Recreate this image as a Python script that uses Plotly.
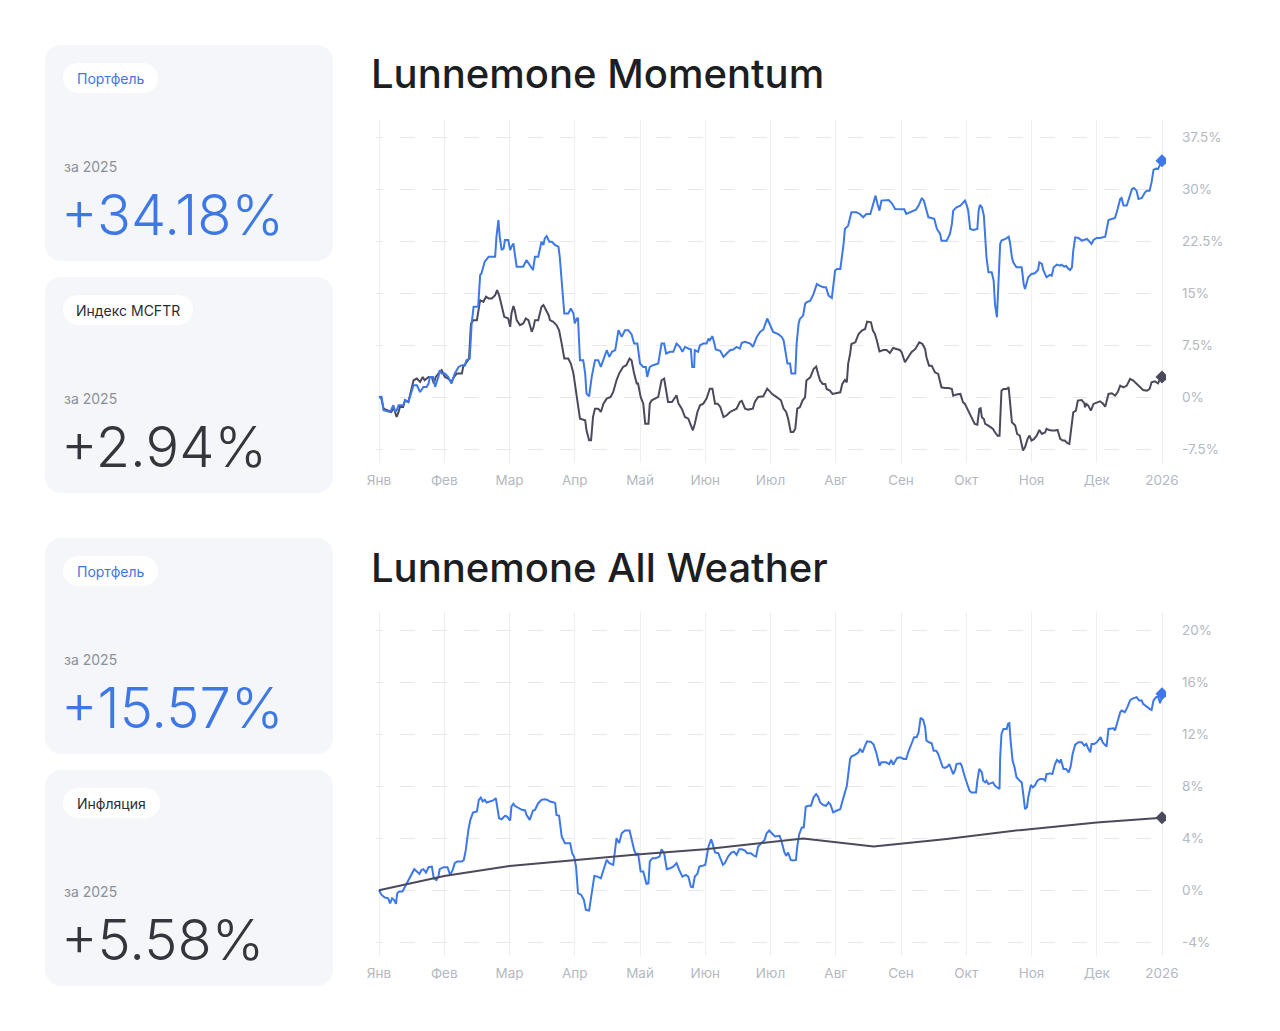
import plotly.graph_objects as go

W, H = 1280, 1031

# ---------------- DATA ----------------
MONTH_POS = list(range(13))
MONTH_LABELS = ["Янв", "Фев", "Мар", "Апр", "Май", "Июн", "Июл", "Авг", "Сен", "Окт", "Ноя", "Дек", "2026"]

TOP_TICKS = [-7.5, 0, 7.5, 15, 22.5, 30, 37.5]
TOP_TICK_TEXT = ["-7.5%", "0%", "7.5%", "15%", "22.5%", "30%", "37.5%"]
BOT_TICKS = [-4, 0, 4, 8, 12, 16, 20]
BOT_TICK_TEXT = ["-4%", "0%", "4%", "8%", "12%", "16%", "20%"]

TITLE_TOP = "Lunnemone Momentum"
TITLE_BOT = "Lunnemone All Weather"

CARDS = [
    ("Портфель", True, "за 2025", "+34.18%", True),
    ("Индекс MCFTR", False, "за 2025", "+2.94%", False),
    ("Портфель", True, "за 2025", "+15.57%", True),
    ("Инфляция", False, "за 2025", "+5.58%", False),
]

MOMENTUM = [
    (0.00, 0.00), (0.04, 0.05), (0.07, -1.88), (0.12, -2.03), (0.17, -2.12), (0.22, -1.16), (0.25, -2.12),
    (0.27, -1.88), (0.30, -1.16), (0.37, -1.16), (0.40, -0.43), (0.45, -0.68), (0.50, 1.01), (0.53, 1.74),
    (0.58, 1.74), (0.63, 0.77), (0.68, 1.50), (0.73, 1.50), (0.76, 1.98), (0.78, 2.94), (0.83, 2.94),
    (0.86, 1.50), (0.91, 2.94), (0.93, 3.91), (0.96, 3.42), (1.01, 3.42), (1.06, 2.94), (1.11, 1.98),
    (1.16, 3.42), (1.22, 4.39), (1.27, 4.63), (1.32, 4.63), (1.34, 5.35), (1.39, 5.59), (1.42, 10.66),
    (1.45, 13.07), (1.52, 13.07), (1.55, 17.65), (1.57, 17.89), (1.62, 19.58), (1.68, 20.30), (1.78, 20.30),
    (1.80, 23.20), (1.83, 25.61), (1.85, 23.20), (1.88, 21.27), (1.91, 21.51), (1.93, 22.72), (1.98, 22.72),
    (2.01, 21.27), (2.03, 21.75), (2.06, 22.23), (2.08, 20.79), (2.11, 18.86), (2.21, 18.86), (2.26, 19.82),
    (2.31, 19.10), (2.36, 18.38), (2.39, 20.30), (2.44, 20.30), (2.49, 22.47), (2.52, 21.99), (2.54, 22.96),
    (2.57, 23.29), (2.61, 22.47), (2.65, 22.47), (2.70, 21.99), (2.75, 21.75), (2.77, 20.30), (2.80, 16.45),
    (2.84, 12.11), (2.90, 12.11), (2.94, 12.83), (2.98, 12.11), (3.00, 10.66), (3.03, 11.38), (3.05, 11.38),
    (3.08, 5.35), (3.13, 5.35), (3.16, 3.42), (3.18, 0.53), (3.22, 0.14), (3.26, 2.94), (3.31, 5.35),
    (3.36, 5.35), (3.40, 4.39), (3.44, 5.59), (3.49, 6.80), (3.53, 5.84), (3.57, 6.56), (3.62, 6.80),
    (3.67, 9.69), (3.72, 8.73), (3.77, 9.69), (3.82, 9.69), (3.87, 9.12), (3.91, 7.76), (3.96, 7.76),
    (4.00, 4.87), (4.05, 4.39), (4.09, 4.39), (4.11, 2.94), (4.15, 4.39), (4.20, 4.63), (4.28, 4.87),
    (4.33, 7.76), (4.37, 7.76), (4.40, 6.32), (4.46, 6.56), (4.51, 6.56), (4.56, 7.76), (4.61, 7.28),
    (4.65, 6.56), (4.69, 7.28), (4.74, 7.04), (4.78, 6.90), (4.80, 4.39), (4.83, 4.39), (4.84, 6.80),
    (4.89, 6.56), (4.92, 7.52), (4.97, 7.76), (5.02, 7.76), (5.05, 8.49), (5.07, 8.25), (5.11, 8.83),
    (5.14, 7.76), (5.16, 6.90), (5.23, 6.70), (5.28, 5.84), (5.33, 6.32), (5.38, 6.80), (5.43, 6.90),
    (5.48, 7.28), (5.53, 7.04), (5.56, 7.86), (5.61, 8.01), (5.69, 7.76), (5.73, 7.28), (5.79, 8.73),
    (5.84, 9.45), (5.89, 9.79), (5.95, 11.38), (5.99, 10.56), (6.04, 9.45), (6.12, 9.12), (6.17, 8.73),
    (6.20, 8.25), (6.24, 6.32), (6.26, 4.87), (6.30, 4.87), (6.32, 3.42), (6.38, 3.42), (6.40, 7.70),
    (6.43, 10.59), (6.45, 11.32), (6.50, 11.80), (6.53, 13.48), (6.55, 13.72), (6.61, 13.96), (6.66, 14.93),
    (6.71, 16.37), (6.75, 16.13), (6.81, 15.89), (6.85, 15.89), (6.89, 14.69), (6.94, 14.35), (6.99, 18.30),
    (7.02, 18.54), (7.07, 18.54), (7.12, 22.15), (7.14, 24.32), (7.19, 24.80), (7.24, 26.72), (7.32, 26.72),
    (7.37, 26.48), (7.42, 26.00), (7.47, 26.48), (7.53, 26.48), (7.58, 28.41), (7.61, 29.13), (7.64, 27.93),
    (7.67, 26.96), (7.70, 28.41), (7.76, 28.41), (7.81, 28.50), (7.86, 28.02), (7.91, 27.20), (7.99, 27.16),
    (8.05, 27.16), (8.08, 26.48), (8.14, 26.72), (8.18, 26.96), (8.23, 27.11), (8.27, 27.69), (8.32, 28.79),
    (8.35, 28.41), (8.39, 26.96), (8.42, 26.00), (8.47, 25.90), (8.51, 25.76), (8.55, 24.32), (8.60, 23.59),
    (8.62, 22.63), (8.70, 22.63), (8.75, 23.59), (8.78, 25.04), (8.80, 26.96), (8.85, 27.45), (8.91, 27.69),
    (8.95, 28.17), (8.98, 28.41), (9.01, 27.69), (9.03, 26.96), (9.06, 24.32), (9.11, 24.17), (9.17, 24.32),
    (9.19, 26.96), (9.21, 27.78), (9.24, 27.45), (9.27, 26.24), (9.31, 20.22), (9.34, 18.06), (9.39, 18.06),
    (9.42, 16.85), (9.44, 13.48), (9.47, 11.56), (9.49, 15.89), (9.52, 22.15), (9.54, 22.63), (9.60, 22.87),
    (9.65, 23.21), (9.67, 22.39), (9.70, 20.22), (9.72, 19.50), (9.77, 18.78), (9.85, 18.78), (9.88, 16.37),
    (9.90, 15.65), (9.95, 17.33), (10.00, 17.82), (10.05, 17.91), (10.10, 18.39), (10.12, 19.50),
    (10.16, 19.26), (10.18, 18.39), (10.21, 17.57), (10.23, 17.33), (10.28, 17.67), (10.31, 17.57),
    (10.34, 18.78), (10.39, 19.16), (10.44, 19.02), (10.46, 19.16), (10.50, 18.88), (10.53, 18.97),
    (10.57, 18.54), (10.59, 18.39), (10.62, 18.78), (10.64, 21.19), (10.67, 23.11), (10.72, 23.02),
    (10.77, 22.63), (10.82, 22.73), (10.85, 22.87), (10.90, 22.39), (10.92, 22.15), (10.95, 22.73),
    (11.00, 23.02), (11.05, 23.02), (11.10, 23.11), (11.13, 23.21), (11.18, 25.62), (11.23, 25.76),
    (11.28, 25.90), (11.32, 27.20), (11.36, 28.65), (11.38, 28.79), (11.41, 27.69), (11.46, 27.69),
    (11.50, 28.89), (11.54, 30.09), (11.57, 30.24), (11.61, 29.85), (11.64, 28.65), (11.69, 28.79),
    (11.74, 29.61), (11.77, 29.85), (11.81, 29.85), (11.84, 31.06), (11.87, 32.84), (11.91, 33.03),
    (11.94, 32.99), (11.97, 33.71), (12.00, 34.18),
]

MCFTR = [
    (0.00, 0.00), (0.03, 0.05), (0.07, -1.64), (0.12, -1.88), (0.19, -2.12), (0.22, -1.40), (0.25, -2.12),
    (0.27, -2.85), (0.30, -2.12), (0.32, -1.40), (0.37, -1.40), (0.40, -0.43), (0.45, -0.68), (0.48, 0.53),
    (0.53, 2.46), (0.58, 2.70), (0.63, 2.22), (0.67, 2.94), (0.70, 2.46), (0.76, 2.94), (0.81, 2.94),
    (0.84, 1.98), (0.87, 2.94), (0.91, 3.42), (0.96, 3.91), (1.01, 2.94), (1.06, 2.70), (1.11, 2.22),
    (1.15, 2.94), (1.19, 3.42), (1.27, 3.42), (1.29, 4.39), (1.34, 5.11), (1.38, 5.59), (1.41, 10.66),
    (1.45, 11.14), (1.50, 11.14), (1.52, 12.59), (1.55, 14.03), (1.60, 13.79), (1.64, 14.52), (1.68, 14.28),
    (1.73, 14.28), (1.78, 14.76), (1.81, 15.48), (1.84, 14.76), (1.88, 13.07), (1.92, 11.62), (1.98, 11.38),
    (2.01, 10.18), (2.03, 12.11), (2.06, 13.17), (2.08, 12.59), (2.11, 11.14), (2.16, 10.42), (2.21, 10.66),
    (2.25, 11.38), (2.29, 11.14), (2.32, 10.18), (2.34, 9.45), (2.37, 10.18), (2.39, 11.14), (2.44, 11.14),
    (2.49, 13.07), (2.52, 13.31), (2.56, 12.59), (2.60, 11.86), (2.62, 11.14), (2.67, 10.90), (2.72, 10.42),
    (2.76, 9.69), (2.80, 7.76), (2.84, 5.59), (2.90, 5.59), (2.94, 4.87), (2.98, 3.42), (3.02, 1.01),
    (3.05, -0.92), (3.08, -3.09), (3.16, -3.33), (3.18, -4.77), (3.22, -6.22), (3.25, -6.22), (3.28, -2.85),
    (3.31, -1.64), (3.36, -1.64), (3.40, -2.12), (3.44, -0.92), (3.49, -0.19), (3.55, 0.05), (3.59, 0.77),
    (3.64, 2.46), (3.68, 3.42), (3.74, 4.39), (3.79, 4.63), (3.84, 5.59), (3.87, 5.35), (3.91, 3.42),
    (3.95, 1.98), (3.97, 1.98), (4.01, 0.05), (4.05, -0.92), (4.08, -3.81), (4.13, -3.81), (4.15, -0.92),
    (4.18, -0.43), (4.23, -0.19), (4.28, 0.05), (4.33, 2.46), (4.37, 2.70), (4.40, 1.01), (4.43, -0.68),
    (4.49, -0.68), (4.54, 0.05), (4.56, 0.29), (4.59, -0.92), (4.64, -1.64), (4.69, -2.85), (4.74, -3.09),
    (4.78, -4.05), (4.81, -4.77), (4.84, -3.81), (4.88, -2.12), (4.92, -1.16), (4.97, -0.92), (5.02, -0.19),
    (5.07, 1.25), (5.11, 1.25), (5.15, -0.92), (5.19, -0.92), (5.23, -1.40), (5.28, -2.85), (5.33, -2.60),
    (5.38, -2.12), (5.43, -1.88), (5.48, -1.64), (5.53, -0.68), (5.56, -0.53), (5.61, -1.64), (5.66, -1.78),
    (5.73, -1.64), (5.76, -0.68), (5.81, 0.05), (5.89, 0.14), (5.95, 1.25), (5.99, 0.77), (6.03, 0.43),
    (6.09, 0.05), (6.16, -0.43), (6.20, -1.64), (6.24, -2.12), (6.27, -3.09), (6.31, -5.02), (6.35, -5.02),
    (6.38, -4.53), (6.41, -1.64), (6.45, -1.44), (6.49, -0.48), (6.53, 0.00), (6.55, 2.41), (6.61, 2.89),
    (6.66, 4.09), (6.70, 4.43), (6.73, 3.37), (6.76, 2.41), (6.80, 1.93), (6.84, 1.93), (6.86, 1.20),
    (6.91, 0.96), (6.95, 0.48), (7.04, 0.58), (7.07, 0.72), (7.10, 1.93), (7.14, 2.50), (7.17, 2.17),
    (7.19, 4.82), (7.22, 6.26), (7.24, 7.70), (7.30, 7.94), (7.35, 9.15), (7.40, 9.63), (7.45, 9.87),
    (7.48, 10.93), (7.54, 10.83), (7.57, 9.63), (7.60, 9.15), (7.63, 8.19), (7.67, 6.64), (7.73, 6.84),
    (7.78, 6.84), (7.83, 6.40), (7.88, 7.13), (7.93, 6.98), (7.98, 6.84), (8.01, 6.50), (8.06, 5.06),
    (8.11, 5.78), (8.16, 6.50), (8.22, 6.98), (8.28, 7.94), (8.33, 7.70), (8.37, 6.98), (8.39, 5.78),
    (8.43, 4.57), (8.47, 4.57), (8.52, 3.61), (8.57, 3.37), (8.62, 1.44), (8.67, 1.35), (8.73, 1.35),
    (8.78, 1.20), (8.80, 0.24), (8.85, 0.39), (8.91, 0.48), (8.95, -0.72), (8.98, -0.96), (9.03, -1.93),
    (9.08, -2.89), (9.13, -3.85), (9.17, -3.95), (9.20, -1.69), (9.22, -1.59), (9.24, -2.89), (9.27, -3.13),
    (9.29, -3.85), (9.34, -4.09), (9.41, -4.57), (9.44, -5.06), (9.48, -5.54), (9.51, -5.54), (9.54, 0.96),
    (9.57, 1.20), (9.62, 1.20), (9.65, 1.44), (9.67, -0.48), (9.70, -3.61), (9.75, -4.09), (9.78, -5.30),
    (9.82, -5.54), (9.87, -7.70), (9.90, -7.22), (9.94, -6.02), (9.97, -5.54), (10.00, -6.26), (10.04, -6.02),
    (10.08, -5.54), (10.12, -4.72), (10.16, -5.30), (10.21, -5.06), (10.23, -4.57), (10.27, -4.72),
    (10.31, -4.81), (10.36, -4.81), (10.40, -4.72), (10.44, -6.02), (10.48, -6.26), (10.51, -6.26),
    (10.55, -6.64), (10.58, -6.74), (10.62, -3.37), (10.64, -2.17), (10.68, -1.93), (10.71, -0.48),
    (10.77, -0.39), (10.81, -0.87), (10.82, -1.44), (10.84, -0.96), (10.87, -1.20), (10.91, -1.93),
    (10.95, -0.96), (11.00, -0.72), (11.05, -0.58), (11.09, -0.87), (11.13, -1.35), (11.18, 0.48),
    (11.23, 0.58), (11.28, 0.24), (11.32, 0.72), (11.36, 1.69), (11.41, 1.44), (11.46, 1.69), (11.51, 2.65),
    (11.56, 2.41), (11.61, 1.93), (11.66, 1.54), (11.71, 1.06), (11.77, 0.96), (11.81, 1.20), (11.84, 2.17),
    (11.89, 2.31), (11.94, 2.02), (11.98, 2.89), (12.00, 2.94),
]

ALL_WEATHER = [
    (0.00, 0.00), (0.04, -0.36), (0.09, -0.56), (0.14, -0.62), (0.17, -1.00), (0.20, -0.62), (0.23, -0.74),
    (0.26, -1.05), (0.28, -0.23), (0.31, -0.10), (0.36, -0.10), (0.40, 0.28), (0.45, 0.79), (0.50, 1.31),
    (0.54, 1.62), (0.58, 1.44), (0.62, 1.26), (0.65, 1.56), (0.68, 1.62), (0.72, 1.36), (0.76, 1.77),
    (0.81, 1.82), (0.84, 0.92), (0.88, 0.79), (0.91, 1.05), (0.93, 1.62), (0.99, 1.77), (1.05, 1.77),
    (1.09, 1.18), (1.13, 1.56), (1.16, 2.08), (1.20, 2.21), (1.27, 2.21), (1.30, 2.33), (1.33, 3.10),
    (1.37, 4.64), (1.40, 5.41), (1.44, 5.97), (1.50, 6.05), (1.53, 6.95), (1.56, 7.13), (1.59, 6.82),
    (1.62, 6.95), (1.65, 6.74), (1.70, 6.82), (1.75, 6.90), (1.79, 7.08), (1.81, 6.44), (1.84, 5.54),
    (1.88, 5.46), (1.93, 5.72), (1.96, 5.67), (2.01, 5.36), (2.03, 6.44), (2.06, 6.64), (2.08, 6.49),
    (2.14, 6.31), (2.19, 6.18), (2.24, 6.13), (2.26, 5.79), (2.31, 5.41), (2.36, 6.13), (2.39, 6.18),
    (2.44, 6.69), (2.49, 6.95), (2.54, 7.00), (2.58, 6.95), (2.62, 6.82), (2.67, 6.77), (2.70, 6.69),
    (2.72, 5.79), (2.76, 5.72), (2.80, 4.13), (2.85, 3.62), (2.93, 3.62), (2.96, 2.85), (2.99, 2.59),
    (3.02, 1.82), (3.05, -0.23), (3.10, -0.36), (3.14, -0.74), (3.17, -1.51), (3.22, -1.56), (3.26, -0.23),
    (3.30, 1.10), (3.35, 1.05), (3.40, 0.92), (3.44, 1.56), (3.49, 2.33), (3.53, 2.08), (3.59, 1.95),
    (3.64, 4.00), (3.68, 3.62), (3.72, 4.38), (3.77, 4.59), (3.84, 4.59), (3.87, 3.87), (3.91, 3.10),
    (3.94, 2.72), (3.97, 2.85), (4.01, 1.44), (4.05, 1.44), (4.10, 0.49), (4.13, 0.54), (4.15, 2.21),
    (4.19, 2.46), (4.24, 2.46), (4.30, 2.59), (4.33, 3.15), (4.37, 2.85), (4.41, 1.62), (4.46, 1.69),
    (4.51, 1.82), (4.56, 2.08), (4.60, 1.56), (4.65, 1.05), (4.70, 1.18), (4.74, 1.05), (4.78, 0.28),
    (4.81, 0.23), (4.84, 1.05), (4.88, 1.26), (4.91, 1.82), (4.95, 1.87), (5.00, 1.95), (5.05, 3.36),
    (5.09, 3.92), (5.11, 3.62), (5.15, 2.90), (5.20, 2.85), (5.24, 2.33), (5.27, 1.95), (5.30, 2.08),
    (5.35, 2.59), (5.40, 2.90), (5.44, 2.97), (5.48, 2.72), (5.52, 3.15), (5.56, 3.15), (5.61, 3.05),
    (5.64, 2.85), (5.70, 2.85), (5.75, 2.64), (5.78, 2.59), (5.81, 3.36), (5.86, 3.62), (5.91, 3.87),
    (5.94, 4.38), (5.98, 4.59), (6.02, 4.38), (6.07, 4.13), (6.14, 4.18), (6.17, 3.74), (6.21, 2.97),
    (6.24, 2.64), (6.27, 2.90), (6.31, 2.33), (6.35, 2.28), (6.39, 2.33), (6.41, 3.36), (6.44, 4.31),
    (6.48, 4.83), (6.51, 4.83), (6.54, 6.42), (6.58, 6.49), (6.62, 6.49), (6.66, 7.14), (6.70, 7.39),
    (6.73, 7.19), (6.76, 6.75), (6.81, 6.55), (6.85, 6.49), (6.89, 6.75), (6.92, 6.57), (6.96, 5.98),
    (7.01, 6.11), (7.07, 6.24), (7.09, 6.62), (7.13, 7.39), (7.17, 8.03), (7.22, 10.09), (7.24, 10.27),
    (7.30, 10.42), (7.35, 10.60), (7.37, 10.86), (7.41, 10.60), (7.45, 11.12), (7.48, 11.45), (7.54, 11.40),
    (7.58, 11.19), (7.62, 10.60), (7.64, 10.22), (7.67, 9.57), (7.70, 9.83), (7.77, 9.83), (7.82, 9.70),
    (7.85, 10.01), (7.88, 9.65), (7.91, 9.96), (7.94, 10.17), (7.99, 10.22), (8.04, 10.09), (8.08, 10.09),
    (8.11, 10.60), (8.16, 11.24), (8.20, 11.76), (8.24, 11.76), (8.27, 12.14), (8.30, 13.25), (8.34, 13.09),
    (8.37, 12.53), (8.39, 11.50), (8.43, 11.37), (8.47, 11.29), (8.50, 10.73), (8.54, 10.73), (8.57, 10.47),
    (8.60, 9.96), (8.64, 9.45), (8.67, 9.40), (8.71, 9.50), (8.74, 9.70), (8.76, 9.45), (8.80, 8.93),
    (8.83, 9.24), (8.85, 9.70), (8.91, 9.75), (8.93, 9.57), (8.98, 8.68), (9.02, 8.16), (9.05, 7.65),
    (9.08, 7.52), (9.15, 7.52), (9.17, 8.42), (9.20, 9.32), (9.24, 9.06), (9.26, 8.42), (9.29, 8.29),
    (9.31, 8.42), (9.34, 8.16), (9.38, 8.21), (9.41, 8.29), (9.44, 8.03), (9.48, 7.91), (9.51, 7.78),
    (9.52, 10.22), (9.54, 12.01), (9.57, 12.40), (9.62, 12.40), (9.64, 12.78), (9.66, 12.84), (9.68, 11.50),
    (9.71, 9.96), (9.74, 9.45), (9.77, 8.68), (9.82, 8.42), (9.85, 8.29), (9.88, 7.14), (9.90, 6.24),
    (9.93, 6.37), (9.95, 7.14), (9.99, 8.09), (10.02, 7.91), (10.05, 8.03), (10.09, 8.42), (10.13, 8.55),
    (10.18, 8.55), (10.21, 8.42), (10.23, 8.93), (10.28, 8.98), (10.32, 8.93), (10.36, 9.70), (10.39, 10.01),
    (10.43, 9.83), (10.45, 10.06), (10.49, 9.32), (10.53, 9.32), (10.57, 9.06), (10.60, 9.50),
    (10.63, 10.47), (10.67, 11.19), (10.72, 11.37), (10.77, 11.37), (10.81, 11.12), (10.84, 11.24),
    (10.86, 10.99), (10.90, 10.60), (10.92, 11.24), (10.96, 11.24), (11.00, 11.37), (11.04, 11.63),
    (11.06, 11.76), (11.09, 11.37), (11.13, 11.12), (11.15, 11.04), (11.18, 12.40), (11.20, 12.40),
    (11.26, 12.45), (11.28, 12.27), (11.31, 12.78), (11.36, 13.68), (11.38, 13.81), (11.43, 13.68),
    (11.47, 14.07), (11.51, 14.58), (11.54, 14.71), (11.59, 14.84), (11.61, 14.84), (11.65, 14.58),
    (11.69, 14.58), (11.71, 14.32), (11.77, 14.07), (11.81, 13.94), (11.84, 13.86), (11.87, 14.58),
    (11.91, 14.84), (11.94, 14.89), (11.97, 14.38), (11.99, 14.71), (12.00, 15.10),
]

INFLATION = [
    (0.00, 0.00), (1.00, 1.10), (2.00, 1.87), (3.00, 2.33), (4.00, 2.77), (5.00, 3.15), (6.00, 3.69),
    (6.50, 3.98), (7.58, 3.36), (8.70, 3.93), (9.82, 4.62), (11.00, 5.20), (12.00, 5.58),
]

# ---------------- STYLE ----------------
BLUE = "#3d78e6"
DARK = "#4a4a5c"
TEXT_DARK = "#34363d"
CARD_BG = "#f4f6f9"
GRID_V = "#eceef2"
GRID_H = "#e6e8ec"
TICK_COLOR = "#b4b8c0"
FONT = "Inter, Roboto, 'Open Sans', sans-serif"


def px(x):
    return x / W


def py(y):
    return 1 - y / H


def rr_path(x0, y0, x1, y1, r):
    k = 0.5523 * r

    def P(x, y):
        return f"{px(x):.5f},{py(y):.5f}"
    return (f"M {P(x0 + r, y0)} L {P(x1 - r, y0)} "
            f"C {P(x1 - r + k, y0)} {P(x1, y0 + r - k)} {P(x1, y0 + r)} "
            f"L {P(x1, y1 - r)} "
            f"C {P(x1, y1 - r + k)} {P(x1 - r + k, y1)} {P(x1 - r, y1)} "
            f"L {P(x0 + r, y1)} "
            f"C {P(x0 + r - k, y1)} {P(x0, y1 - r + k)} {P(x0, y1 - r)} "
            f"L {P(x0, y0 + r)} "
            f"C {P(x0, y0 + r - k)} {P(x0 + r - k, y0)} {P(x0 + r, y0)} Z")


def split(pairs):
    return [p[0] for p in pairs], [p[1] for p in pairs]


fig = go.Figure()

mx, my = split(MCFTR)
bx, by = split(MOMENTUM)
fig.add_trace(go.Scatter(x=mx, y=my, mode="lines", line=dict(color=DARK, width=2),
                         xaxis="x", yaxis="y", hoverinfo="skip"))
fig.add_trace(go.Scatter(x=bx, y=by, mode="lines", line=dict(color=BLUE, width=2),
                         xaxis="x", yaxis="y", hoverinfo="skip"))
fig.add_trace(go.Scatter(x=[mx[-1]], y=[my[-1]], mode="markers",
                         marker=dict(symbol="diamond", size=10, color=DARK),
                         xaxis="x", yaxis="y", hoverinfo="skip"))
fig.add_trace(go.Scatter(x=[bx[-1]], y=[by[-1]], mode="markers",
                         marker=dict(symbol="diamond", size=10, color=BLUE),
                         xaxis="x", yaxis="y", hoverinfo="skip"))

ax_, ay_ = split(ALL_WEATHER)
ix, iy = split(INFLATION)
fig.add_trace(go.Scatter(x=ax_, y=ay_, mode="lines", line=dict(color=BLUE, width=2),
                         xaxis="x2", yaxis="y2", hoverinfo="skip"))
fig.add_trace(go.Scatter(x=ix, y=iy, mode="lines", line=dict(color=DARK, width=2),
                         xaxis="x2", yaxis="y2", hoverinfo="skip"))
fig.add_trace(go.Scatter(x=[ax_[-1]], y=[ay_[-1]], mode="markers",
                         marker=dict(symbol="diamond", size=10, color=BLUE),
                         xaxis="x2", yaxis="y2", hoverinfo="skip"))
fig.add_trace(go.Scatter(x=[ix[-1]], y=[iy[-1]], mode="markers",
                         marker=dict(symbol="diamond", size=10, color=DARK),
                         xaxis="x2", yaxis="y2", hoverinfo="skip"))

X_LEFT, X_RIGHT = 376, 1166
X0_PX, MONTH_PX = 379, 65.25
x_range = [(X_LEFT - X0_PX) / MONTH_PX, (X_RIGHT - X0_PX) / MONTH_PX]

TOP_PX = (120, 463)
TOP_GRID = (137.7, 449.2)
t_scale = 45 / (TOP_GRID[1] - TOP_GRID[0])
top_range = [-7.5 - (TOP_PX[1] - TOP_GRID[1]) * t_scale, 37.5 + (TOP_GRID[0] - TOP_PX[0]) * t_scale]

BOT_PX = (612.3, 956)
BOT_GRID = (630.0, 942.3)
b_scale = 24 / (BOT_GRID[1] - BOT_GRID[0])
bot_range = [-4 - (BOT_PX[1] - BOT_GRID[1]) * b_scale, 20 + (BOT_GRID[0] - BOT_PX[0]) * b_scale]

DASH = "7px,17px,8px,0px"

common_x = dict(range=x_range, domain=[px(X_LEFT), px(X_RIGHT)], tickmode="array",
                tickvals=MONTH_POS, ticktext=MONTH_LABELS, showgrid=True, gridcolor=GRID_V,
                gridwidth=1, zeroline=False, showline=False, ticks="", automargin=False,
                tickfont=dict(family=FONT, size=13.5, color=TICK_COLOR), ticklabelstandoff=7,
                fixedrange=True)
common_y = dict(side="right", tickmode="array", showgrid=True, gridcolor=GRID_H, gridwidth=1,
                griddash=DASH, zeroline=False, showline=False, ticks="", automargin=False,
                tickfont=dict(family=FONT, size=13.5, color=TICK_COLOR), ticklabelstandoff=15,
                fixedrange=True)

fig.update_layout(
    template="none",
    width=W, height=H, autosize=False,
    margin=dict(l=0, r=0, t=0, b=0, pad=0),
    paper_bgcolor="white", plot_bgcolor="white",
    showlegend=False, hovermode=False,
    font=dict(family=FONT),
    xaxis=dict(**common_x, anchor="y"),
    yaxis=dict(**common_y, anchor="x", range=top_range, domain=[py(TOP_PX[1]), py(TOP_PX[0])],
               tickvals=TOP_TICKS, ticktext=TOP_TICK_TEXT),
    xaxis2=dict(**common_x, anchor="y2"),
    yaxis2=dict(**common_y, anchor="x2", range=bot_range, domain=[py(BOT_PX[1]), py(BOT_PX[0])],
                tickvals=BOT_TICKS, ticktext=BOT_TICK_TEXT),
)

shapes = []
annotations = []

for title, ty in [(TITLE_TOP, 73.5), (TITLE_BOT, 567)]:
    annotations.append(dict(text=title, xref="paper", yref="paper", x=px(369), y=py(ty),
                            xanchor="left", yanchor="middle", showarrow=False,
                            font=dict(family=FONT, size=40, color="#1c1e22", weight=500)))

CARD_TOPS = [45, 277, 538, 770]
PILL_WIDTHS = [95, 130, 95, 97]
for (pill, pill_blue, period, value, val_blue), top, pw in zip(CARDS, CARD_TOPS, PILL_WIDTHS):
    shapes.append(dict(type="path", path=rr_path(45, top, 333, top + 216, 16), xref="paper", yref="paper",
                       fillcolor=CARD_BG, line=dict(width=0), layer="below"))
    shapes.append(dict(type="path", path=rr_path(63, top + 18, 63 + pw, top + 48, 15), xref="paper",
                       yref="paper", fillcolor="white", line=dict(width=0), layer="below"))
    annotations.append(dict(text=pill, xref="paper", yref="paper", x=px(63 + pw / 2), y=py(top + 33),
                            xanchor="center", yanchor="middle", showarrow=False,
                            font=dict(family=FONT, size=14, color=BLUE if pill_blue else "#2a2c33")))
    annotations.append(dict(text=period, xref="paper", yref="paper", x=px(62), y=py(top + 121),
                            xanchor="left", yanchor="middle", showarrow=False,
                            font=dict(family=FONT, size=14, color="#8b9098")))
    annotations.append(dict(text=value, xref="paper", yref="paper", x=px(59), y=py(top + 170),
                            xanchor="left", yanchor="middle", showarrow=False,
                            font=dict(family=FONT, size=56, color=BLUE if val_blue else TEXT_DARK,
                                      weight=300)))

fig.update_layout(shapes=shapes, annotations=annotations)

fig.write_html("out.html", config={"displayModeBar": False})
